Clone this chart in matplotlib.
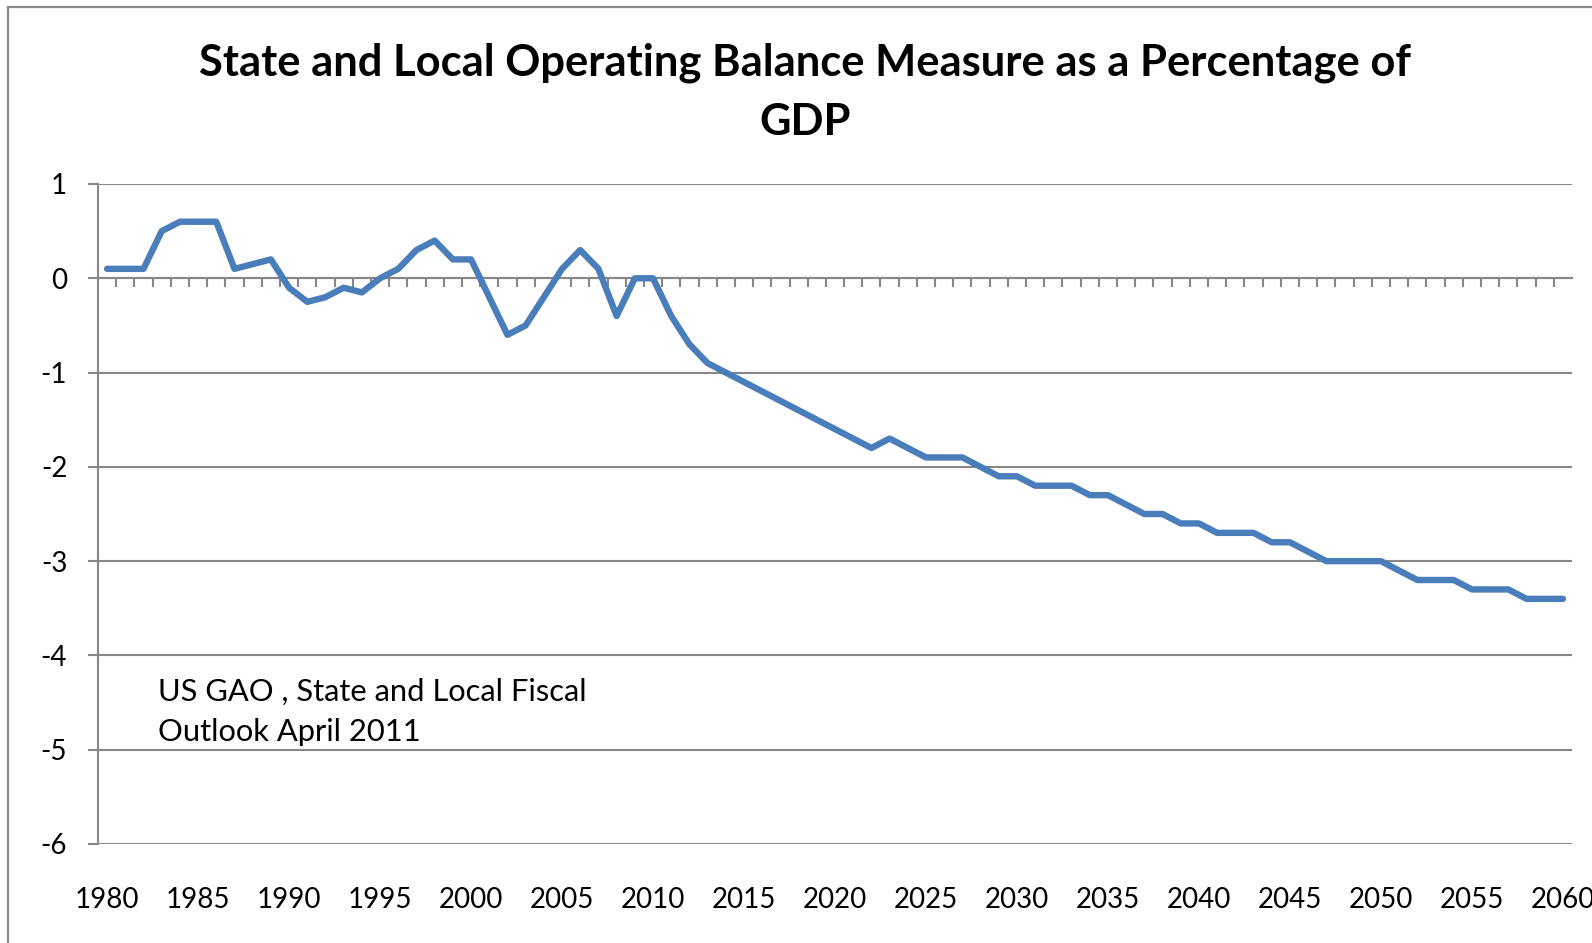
import matplotlib
matplotlib.use("Agg")
import matplotlib.pyplot as plt
from matplotlib.lines import Line2D
import numpy as np

plt.rcParams["axes.unicode_minus"] = False

years = list(range(1980, 2061))
balance = [
    0.1, 0.1, 0.1, 0.5, 0.6, 0.6, 0.6, 0.1, 0.15, 0.2,      # 1980-1989
    -0.1, -0.25, -0.2, -0.1, -0.15, 0.0, 0.1, 0.3, 0.4, 0.2,  # 1990-1999
    0.2, -0.2, -0.6, -0.5, -0.2, 0.1, 0.3, 0.1, -0.4, 0.0,    # 2000-2009
    0.0, -0.4, -0.7, -0.9, -1.0, -1.1, -1.2, -1.3, -1.4, -1.5,  # 2010-2019
    -1.6, -1.7, -1.8, -1.7, -1.8, -1.9, -1.9, -1.9, -2.0, -2.1,  # 2020-2029
    -2.1, -2.2, -2.2, -2.2, -2.3, -2.3, -2.4, -2.5, -2.5, -2.6,  # 2030-2039
    -2.6, -2.7, -2.7, -2.7, -2.8, -2.8, -2.9, -3.0, -3.0, -3.0,  # 2040-2049
    -3.0, -3.1, -3.2, -3.2, -3.2, -3.3, -3.3, -3.3, -3.4, -3.4,  # 2050-2059
    -3.4,                                                       # 2060
]
yticks = [1, 0, -1, -2, -3, -4, -5, -6]
xlabel_years = list(range(1980, 2061, 5))

title = "State and Local Operating Balance Measure as a Percentage of\nGDP"
note = "US GAO , State and Local Fiscal\nOutlook April 2011"

FONT = "Lato"
GRAY = "#878787"
BLUE = "#4A7EBB"

W, H = 1592, 943
fig = plt.figure(figsize=(W / 100, H / 100), dpi=100)

# axes: x 98..1572 px, y 184 (value 1) .. 844 (value -6)
ax_left, ax_right = 98, 1572
ax_top, ax_bottom = 184, 844
ax = fig.add_axes([ax_left / W, 1 - ax_bottom / H,
                   (ax_right - ax_left) / W, (ax_bottom - ax_top) / H])

x = np.arange(len(years))
ax.plot(x, balance, color=BLUE, lw=4.6, solid_capstyle="round",
        solid_joinstyle="round", zorder=3)

ax.set_xlim(-0.5, len(years) - 0.5)
ax.set_ylim(-6, 1)

# gridlines
ax.set_yticks(yticks)
ax.yaxis.grid(True, color=GRAY, lw=1.5)
ax.set_axisbelow(True)
for s in ["top", "right", "bottom"]:
    ax.spines[s].set_visible(False)
ax.spines["left"].set_color(GRAY)
ax.spines["left"].set_linewidth(1.5)
ax.tick_params(axis="y", direction="out", length=7.2, width=1.5, color=GRAY,
               pad=15, labelsize=20, labelcolor="black")
for lab in ax.get_yticklabels():
    lab.set_fontfamily(FONT)

# x labels at bottom
ax.set_xticks([years.index(y) for y in xlabel_years])
ax.set_xticklabels([str(y) for y in xlabel_years], fontfamily=FONT, fontsize=20)
ax.tick_params(axis="x", length=0, pad=31)

# horizontal axis crossing at zero with category tick marks pointing down
sec = ax.secondary_xaxis(6 / 7)
for s in sec.spines.values():
    s.set_color(GRAY)
    s.set_linewidth(1.5)
sec.set_xticks(np.arange(0.5, len(years) - 0.5, 1.0))
sec.set_xticklabels([])
sec.tick_params(axis="x", which="both", direction="in", length=6.5, width=1.5,
                color=GRAY, labelbottom=False, labeltop=False)

# title
fig.text(805 / W, 1 - 92 / H, title, ha="center", va="center",
         fontfamily=FONT, fontweight="bold", fontsize=31.3, linespacing=1.58)

# annotation
fig.text(158 / W, 1 - 712 / H, note, ha="left", va="center",
         fontfamily=FONT, fontsize=22.2, linespacing=1.55)

# chart border (left and top visible)
fig.add_artist(Line2D([8 / W, 8 / W], [0, 1 - 7 / H], transform=fig.transFigure,
                      color="#8a8a8a", lw=1.6))
fig.add_artist(Line2D([8 / W, 1], [1 - 7 / H, 1 - 7 / H], transform=fig.transFigure,
                      color="#8a8a8a", lw=1.6))

fig.savefig("out.png", dpi=100)
